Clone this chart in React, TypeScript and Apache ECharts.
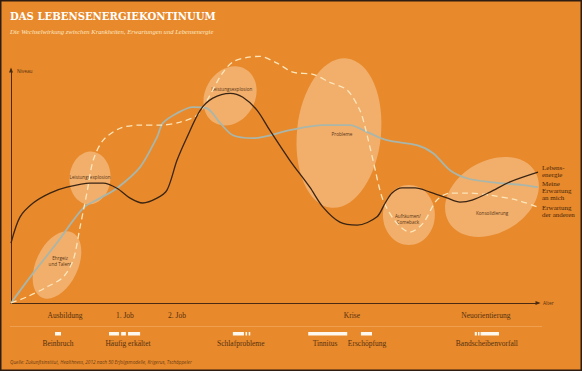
import React, { useEffect, useRef } from 'react';
import * as echarts from 'echarts';

// Lebensenergie (x: Alter 0..100, y: Niveau)
const energyX = [0, 1.7, 4.2, 7.4, 10.6, 15.0, 17.5, 20.1, 22.6, 25.0, 27.7, 29.6, 31.5, 33.4, 35.9, 38.3, 41.6, 44.0, 46.7, 49.1, 52.9, 56.7, 59.2, 62.4, 65.7, 69.4, 71.0, 72.3, 74.2, 76.7, 79.5, 82.7, 85.2, 87.5, 90.9, 94.7, 100];
const energyY = [24.7, 35.4, 41.2, 45.3, 47.7, 49.4, 49.4, 47.3, 43.2, 41.2, 43.2, 46.5, 58.8, 68.3, 79.4, 84.4, 86.4, 84.8, 79.4, 71.2, 58.8, 47.7, 39.5, 33.3, 32.1, 35.4, 41.2, 45.3, 47.4, 47.4, 45.7, 43.3, 41.6, 42.4, 45.7, 49.9, 53.9];

// Meine Erwartung an mich
const selfX = [0, 4.2, 8.7, 13.7, 16.9, 20.1, 24.5, 27.7, 28.8, 31.5, 34.5, 37.2, 39.7, 42.1, 45.9, 52.9, 59.2, 64.3, 67.6, 71.3, 77.0, 80.1, 83.3, 86.5, 90.9, 97.2, 100];
const selfY = [0, 12.3, 24.7, 39.1, 43.2, 47.3, 56.0, 68.3, 74.1, 78.2, 80.7, 80.2, 74.1, 69.1, 67.9, 71.2, 73.3, 73.3, 70.4, 67.1, 65.0, 61.7, 54.7, 51.4, 49.8, 48.6, 47.7];

// Erwartung der anderen
const othersX = [0, 3.0, 6.8, 9.9, 11.8, 13.1, 14.4, 15.6, 17.5, 20.7, 24.5, 28.3, 32.1, 35.3, 37.2, 40.0, 42.1, 44.8, 47.2, 50.5, 53.5, 57.3, 60.5, 63.8, 66.2, 67.2, 68.7, 70.6, 73.2, 75.7, 78.2, 80.8, 83.3, 86.5, 90.9, 96.0, 100];
const othersY = [0, 2.5, 6.6, 10.7, 17.7, 31.3, 45.3, 58.8, 67.1, 72.0, 73.3, 73.3, 74.5, 77.4, 83.5, 94.3, 99.3, 101.2, 101.6, 98.8, 95.1, 94.2, 90.9, 87.7, 79.4, 72.4, 58.8, 42.4, 32.9, 29.2, 32.9, 42.4, 45.3, 45.3, 44.4, 42.4, 39.5];

// Phasen (x-Achse)
const phaseNames = ['Ausbildung', '1. Job', '2. Job', 'Krise', 'Neuorientierung'];
const phaseX = [10.25, 21.6, 31.5, 64.7, 90.1];

// Krankheiten
const illnessNames = ['Beinbruch', 'Häufig erkältet', 'Schlafprobleme', 'Tinnitus', 'Erschöpfung', 'Bandscheibenvorfall'];
const illnessX = [8.92, 22.2, 43.6, 59.6, 67.55, 90.3];
const illnessStart = [8.35, 18.6, 20.9, 22.2, 42.1, 44.5, 45.1, 56.4, 66.4, 88.0, 88.6, 89.1];
const illnessEnd = [9.49, 20.5, 21.8, 24.5, 44.2, 44.8, 45.4, 63.8, 68.5, 88.4, 88.9, 92.6];

// Phasen-Ellipsen
const bubbleNames = ['Ehrgeiz\nund Talent', 'Leistungsexplosion', 'Leistungsexplosion', 'Probleme', 'Aufräumen/\nComeback', 'Konsolidierung'];
const bubbleCX = [8.73, 14.99, 41.56, 62.24, 75.5, 91.27];
const bubbleCY = [15.66, 51.5, 85.3, 70.0, 36.3, 43.7];
const bubbleRX = [3.98, 3.89, 4.74, 7.97, 4.93, 9.49];
const bubbleRY = [14.8, 10.9, 12.77, 30.9, 12.36, 14.83];
const bubbleRot = [-25, -5, -30, -6, 0, 30];
const bubbleLX = [9.3, 15.0, 41.9, 62.8, 75.3, 91.3];
const bubbleLY = [17.3, 51.9, 88.2, 69.6, 34.6, 37.1];

const BROWN = '#55300f';
const SERIF = '"Liberation Serif", "DejaVu Serif", serif';
const SANS = '"Open Sans", "Noto Sans", sans-serif';

function zip(a: number[], b: number[]) {
  return a.map((v, i) => [v, b[i]]);
}

function nearestName(values: number[], names: string[], v: number) {
  let best = -1;
  let bd = 1e9;
  values.forEach((x, i) => {
    const d = Math.abs(x - v);
    if (d < bd) { bd = d; best = i; }
  });
  return bd < 0.05 ? names[best] : '';
}

export default function App() {
  const ref = useRef<HTMLDivElement>(null);

  useEffect(() => {
    document.body.style.margin = '0';
    const chart = echarts.init(ref.current!, null, { renderer: 'svg' });

    const option: any = {
      animation: false,
      backgroundColor: '#e8892b',
      grid: [
        { left: 11, right: 44, top: 70, bottom: 68 },
        { left: 11, right: 44, top: 332, height: 3.5 },
      ],
      xAxis: [
        {
          type: 'value', gridIndex: 0, min: 0, max: 100,
          axisLine: { show: true, symbol: ['none', 'triangle'], symbolSize: [4, 5], lineStyle: { color: '#4a2a10', width: 1 } },
          axisTick: { show: false },
          splitLine: { show: false },
          axisLabel: {
            customValues: phaseX,
            formatter: (v: number) => nearestName(phaseX, phaseNames, v),
            margin: 8, fontFamily: SERIF, fontSize: 7.5, color: BROWN,
          },
          name: 'Alter', nameLocation: 'end', nameGap: 5,
          nameTextStyle: { fontFamily: SANS, fontSize: 4.8, color: BROWN },
        },
        {
          type: 'value', gridIndex: 1, min: 0, max: 100,
          axisLine: { show: false }, axisTick: { show: false }, splitLine: { show: false },
          axisLabel: {
            customValues: illnessX,
            formatter: (v: number) => nearestName(illnessX, illnessNames, v),
            margin: 4, fontFamily: SERIF, fontSize: 7.5, color: BROWN,
          },
        },
      ],
      yAxis: [
        {
          type: 'value', gridIndex: 0, min: 0, max: 96,
          axisLine: { show: true, symbol: ['none', 'triangle'], symbolSize: [4, 5], lineStyle: { color: '#4a2a10', width: 1 } },
          axisTick: { show: false }, axisLabel: { show: false }, splitLine: { show: false },
          name: 'Niveau', nameLocation: 'end', nameGap: -1,
          nameTextStyle: { fontFamily: SANS, fontSize: 4.8, color: BROWN, align: 'left', verticalAlign: 'middle', padding: [0, 0, 0, 6] },
        },
        { type: 'value', gridIndex: 1, min: 0, max: 1, show: false },
      ],
      graphic: [
        { type: 'text', left: 10, top: 11, style: { text: 'DAS LEBENSENERGIEKONTINUUM', fill: '#ffffff', fontFamily: '"DejaVu Serif", serif', fontWeight: 'bold', fontSize: 10.1 } },
        { type: 'text', left: 10, top: 27.5, style: { text: 'Die Wechselwirkung zwischen Krankheiten, Erwartungen und Lebensenergie', fill: '#fde8c4', fontFamily: SERIF, fontStyle: 'italic', fontSize: 6.6 } },
        { type: 'line', shape: { x1: 10, y1: 326.5, x2: 542, y2: 326.5 }, style: { stroke: '#f0a458', lineWidth: 0.8 } },
        { type: 'text', left: 10, top: 359, style: { text: 'Quelle: Zukunftsinstitut, Healthness, 2012 nach 50 Erfolgsmodelle, Krigerus, Tschäppeler', fill: '#6e3d12', fontFamily: SANS, fontStyle: 'italic', fontSize: 4.7 } },
        { type: 'rect', shape: { x: 0, y: 0, width: 582, height: 371 }, style: { fill: 'none', stroke: '#2e1d10', lineWidth: 3 }, z: 100 },
      ],
      series: [
        {
          type: 'custom', xAxisIndex: 0, yAxisIndex: 0, clip: false, z: 1,
          data: bubbleCX.map((x, i) => [x, bubbleCY[i], bubbleRX[i], bubbleRY[i], bubbleRot[i], bubbleLX[i], bubbleLY[i]]),
          encode: { x: 0, y: 1 },
          renderItem: (params: any, api: any) => {
            const c = api.coord([api.value(0), api.value(1)]);
            const s = api.size([api.value(2), api.value(3)]);
            const l = api.coord([api.value(5), api.value(6)]);
            return {
              type: 'group',
              children: [
                {
                  type: 'ellipse', x: c[0], y: c[1], rotation: (api.value(4) * Math.PI) / 180,
                  shape: { cx: 0, cy: 0, rx: s[0], ry: s[1] },
                  style: { fill: 'rgba(255, 236, 212, 0.38)' },
                },
                {
                  type: 'text', x: l[0], y: l[1],
                  style: { text: bubbleNames[params.dataIndex], fill: '#5a3516', fontFamily: SANS, fontSize: 4.6, lineHeight: 5.5, align: 'center', verticalAlign: 'middle' },
                },
              ],
            };
          },
        },
        {
          name: 'Meine Erwartung an mich', type: 'line', xAxisIndex: 0, yAxisIndex: 0, clip: false, z: 3,
          data: zip(selfX, selfY), smooth: 0.3, symbol: 'none',
          lineStyle: { color: '#a9b6ab', width: 1.8 },
          endLabel: { show: true, formatter: 'Meine\nErwartung\nan mich', distance: 4, offset: [0, 3.5], fontFamily: SERIF, fontSize: 7, lineHeight: 6.8, color: '#4a2608' },
        },
        {
          name: 'Erwartung der anderen', type: 'line', xAxisIndex: 0, yAxisIndex: 0, clip: false, z: 3,
          data: zip(othersX, othersY), smooth: 0.3, symbol: 'none',
          lineStyle: { color: '#fce6bb', width: 1.3, type: [6, 4] },
          endLabel: { show: true, formatter: 'Erwartung\nder anderen', distance: 4, offset: [0, 4.5], fontFamily: SERIF, fontSize: 7, lineHeight: 6.8, color: '#4a2608' },
        },
        {
          name: 'Lebensenergie', type: 'line', xAxisIndex: 0, yAxisIndex: 0, clip: false, z: 4,
          data: zip(energyX, energyY), smooth: 0.3, symbol: 'none',
          lineStyle: { color: '#3a2414', width: 1.3 },
          endLabel: { show: true, formatter: 'Lebens-\nenergie', distance: 4, offset: [0, -1], fontFamily: SERIF, fontSize: 7, lineHeight: 6.8, color: '#4a2608' },
        },
        {
          type: 'custom', xAxisIndex: 1, yAxisIndex: 1, clip: false, z: 2,
          data: illnessStart.map((s, i) => [s, illnessEnd[i]]),
          encode: { x: [0, 1] },
          renderItem: (_params: any, api: any) => {
            const a = api.coord([api.value(0), 1]);
            const b = api.coord([api.value(1), 0]);
            return { type: 'rect', shape: { x: a[0], y: a[1], width: b[0] - a[0], height: b[1] - a[1] }, style: { fill: '#fff8ee' } };
          },
        },
      ],
    };

    chart.setOption(option);
    return () => chart.dispose();
  }, []);

  return <div ref={ref} style={{ width: 582, height: 371 }} />;
}
